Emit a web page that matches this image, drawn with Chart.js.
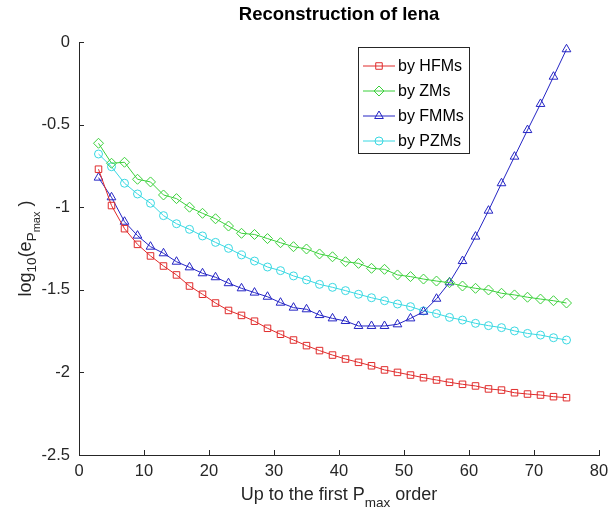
<!DOCTYPE html>
<html>
<head>
<meta charset="utf-8">
<script src="https://cdn.jsdelivr.net/npm/chart.js@4"></script>
<style>
  html, body { margin: 0; padding: 0; background: #fff; }
  #wrap { width: 609px; height: 519px; }
</style>
</head>
<body>
<div id="wrap"><canvas id="Chart" width="609" height="519"></canvas></div>
<script>
// Pmax orders (x) and log10 error per method
const orders = [3, 5, 7, 9, 11, 13, 15, 17, 19, 21, 23, 25, 27, 29, 31, 33, 35, 37, 39,
  41, 43, 45, 47, 49, 51, 53, 55, 57, 59, 61, 63, 65, 67, 69, 71, 73, 75];

const hfms = [-0.77, -0.99, -1.13, -1.225, -1.295, -1.356, -1.41, -1.477, -1.527, -1.58,
  -1.625, -1.655, -1.69, -1.733, -1.769, -1.804, -1.838, -1.868, -1.895, -1.919,
  -1.939, -1.96, -1.985, -2.0, -2.016, -2.032, -2.046, -2.06, -2.072, -2.082,
  -2.1, -2.107, -2.123, -2.131, -2.137, -2.147, -2.153];

const zms = [-0.613, -0.734, -0.728, -0.831, -0.847, -0.926, -0.948, -1.0, -1.037, -1.07,
  -1.114, -1.158, -1.165, -1.19, -1.215, -1.239, -1.253, -1.283, -1.3, -1.33,
  -1.34, -1.37, -1.376, -1.41, -1.42, -1.435, -1.447, -1.457, -1.477, -1.491,
  -1.501, -1.521, -1.531, -1.545, -1.556, -1.566, -1.58];

const fmms = [-0.821, -0.94, -1.088, -1.172, -1.239, -1.279, -1.33, -1.364, -1.4, -1.424,
  -1.46, -1.491, -1.517, -1.542, -1.578, -1.608, -1.618, -1.653, -1.673, -1.689,
  -1.719, -1.719, -1.719, -1.709, -1.673, -1.633, -1.554, -1.455, -1.326, -1.178,
  -1.021, -0.855, -0.694, -0.533, -0.375, -0.21, -0.044];

const pzms = [-0.678, -0.755, -0.855, -0.92, -0.976, -1.051, -1.1, -1.134, -1.174, -1.213,
  -1.249, -1.289, -1.326, -1.362, -1.384, -1.416, -1.44, -1.467, -1.485, -1.505,
  -1.527, -1.548, -1.566, -1.586, -1.602, -1.628, -1.644, -1.667, -1.683, -1.703,
  -1.717, -1.729, -1.749, -1.764, -1.774, -1.79, -1.804];

const seriesNames = ["by HFMs", "by ZMs", "by FMMs", "by PZMs"];
const xTicks = [0, 10, 20, 30, 40, 50, 60, 70, 80];
const yTicks = [0, -0.5, -1, -1.5, -2, -2.5];

const FONT = "'Liberation Sans', Arial, Helvetica, sans-serif";
const AXIS_COLOR = "#262626";

function toPoints(ys) {
  return orders.map((x, i) => ({ x: x, y: ys[i] }));
}

function makeSet(label, ys, color, style, r) {
  return {
    label: label,
    data: toPoints(ys),
    borderColor: color,
    borderWidth: 1,
    pointStyle: style,
    pointRadius: r,
    pointBorderColor: color,
    pointBackgroundColor: "rgba(0,0,0,0)",
    pointBorderWidth: 1,
    tension: 0,
    fill: false,
  };
}

const datasets = [
  makeSet(seriesNames[0], hfms, "#e02b2b", "rect", 4.6),
  makeSet(seriesNames[1], zms, "#3ad03a", "rectRot", 5),
  makeSet(seriesNames[2], fmms, "#2424c4", "triangle", 5),
  makeSet(seriesNames[3], pzms, "#38d8e2", "circle", 4),
];

// draw a run of text pieces with sub-scripts, centered on (0, 0) baseline
function drawPieces(ctx, pieces) {
  let total = 0;
  pieces.forEach((p) => {
    ctx.font = p.size + "px " + FONT;
    p.w = ctx.measureText(p.t).width + (p.gap || 0);
    total += p.w;
  });
  let x = -total / 2;
  ctx.textAlign = "left";
  ctx.textBaseline = "alphabetic";
  pieces.forEach((p) => {
    ctx.font = p.size + "px " + FONT;
    ctx.fillText(p.t, x, p.dy);
    x += p.w;
  });
}

function marker(ctx, style, r, x, y) {
  if (Chart.helpers && Chart.helpers.drawPoint) {
    Chart.helpers.drawPoint(ctx, { pointStyle: style, radius: r, rotation: 0, borderWidth: 1 }, x, y);
  }
}

const matlabLook = {
  id: "matlabLook",
  afterDraw(chart) {
    const ctx = chart.ctx;
    const xs = chart.scales.x;
    const ys = chart.scales.y;
    const area = chart.chartArea;
    ctx.save();

    // inward ticks
    ctx.strokeStyle = AXIS_COLOR;
    ctx.lineWidth = 1;
    ctx.beginPath();
    xTicks.forEach((v) => {
      const px = Math.round(xs.getPixelForValue(v)) + 0.5;
      ctx.moveTo(px, area.bottom);
      ctx.lineTo(px, area.bottom - 5);
    });
    yTicks.forEach((v) => {
      const py = Math.round(ys.getPixelForValue(v)) + 0.5;
      ctx.moveTo(area.left, py);
      ctx.lineTo(area.left + 5, py);
    });
    ctx.stroke();

    // title
    ctx.fillStyle = "#000";
    ctx.font = "bold 18.5px " + FONT;
    ctx.textAlign = "center";
    ctx.textBaseline = "middle";
    ctx.fillText("Reconstruction of lena", (area.left + area.right) / 2, 15);

    // x axis title
    ctx.fillStyle = AXIS_COLOR;
    ctx.save();
    ctx.translate((area.left + area.right) / 2, 500);
    drawPieces(ctx, [
      { t: "Up to the first P", size: 18, dy: 0 },
      { t: "max", size: 13.5, dy: 7 },
      { t: " order", size: 18, dy: 0 },
    ]);
    ctx.restore();

    // y axis title
    ctx.save();
    ctx.translate(31, (area.top + area.bottom) / 2);
    ctx.rotate(-Math.PI / 2);
    drawPieces(ctx, [
      { t: "log", size: 18, dy: 0 },
      { t: "10", size: 13.5, dy: 5 },
      { t: "(e", size: 18, dy: 0 },
      { t: "P", size: 13.5, dy: 5 },
      { t: "max", size: 11, dy: 9, gap: 5 },
      { t: ")", size: 18, dy: 0 },
    ]);
    ctx.restore();

    // legend
    const lx = 358, ly = 47, lw = 111, lh = 106;
    ctx.fillStyle = "#fff";
    ctx.fillRect(lx, ly, lw, lh);
    ctx.strokeStyle = AXIS_COLOR;
    ctx.strokeRect(lx + 0.5, ly + 0.5, lw, lh);
    chart.data.datasets.forEach((ds, i) => {
      const y = 66 + i * 25;
      ctx.strokeStyle = ds.borderColor;
      ctx.lineWidth = 1;
      ctx.beginPath();
      ctx.moveTo(363, y);
      ctx.lineTo(395, y);
      ctx.stroke();
      ctx.fillStyle = "rgba(0,0,0,0)";
      marker(ctx, ds.pointStyle, ds.pointRadius, 379, y);
      ctx.fillStyle = "#000";
      ctx.font = "16px " + FONT;
      ctx.textAlign = "left";
      ctx.textBaseline = "middle";
      ctx.fillText(ds.label, 398, y + 1);
    });

    ctx.restore();
  },
};

const config = {
  type: "line",
  data: { datasets: datasets },
  options: {
    responsive: false,
    animation: false,
    devicePixelRatio: 1,
    layout: { padding: { top: 42, right: 10, left: 0, bottom: 0 } },
    plugins: {
      legend: { display: false },
      title: { display: false },
      tooltip: { enabled: false },
    },
    scales: {
      x: {
        type: "linear",
        min: 0,
        max: 80,
        afterBuildTicks: (s) => { s.ticks = xTicks.map((v) => ({ value: v })); },
        afterFit: (s) => { s.height = 64; s.paddingLeft = 0; s.paddingRight = 0; },
        grid: { display: false, drawTicks: false },
        border: { display: true, color: AXIS_COLOR, width: 1 },
        ticks: {
          padding: 7,
          color: AXIS_COLOR,
          font: { family: FONT, size: 16.5 },
          maxRotation: 0,
          callback: (v) => String(v),
        },
      },
      y: {
        type: "linear",
        min: -2.5,
        max: 0,
        afterBuildTicks: (s) => { s.ticks = yTicks.map((v) => ({ value: v })); },
        afterFit: (s) => { s.width = 79; },
        grid: { display: false, drawTicks: false },
        border: { display: true, color: AXIS_COLOR, width: 1 },
        ticks: {
          padding: 9,
          color: AXIS_COLOR,
          font: { family: FONT, size: 16.5 },
          callback: (v) => String(Math.round(v * 10) / 10),
        },
      },
    },
  },
  plugins: [matlabLook],
};

new Chart(document.getElementById("Chart"), config);
</script>
</body>
</html>
